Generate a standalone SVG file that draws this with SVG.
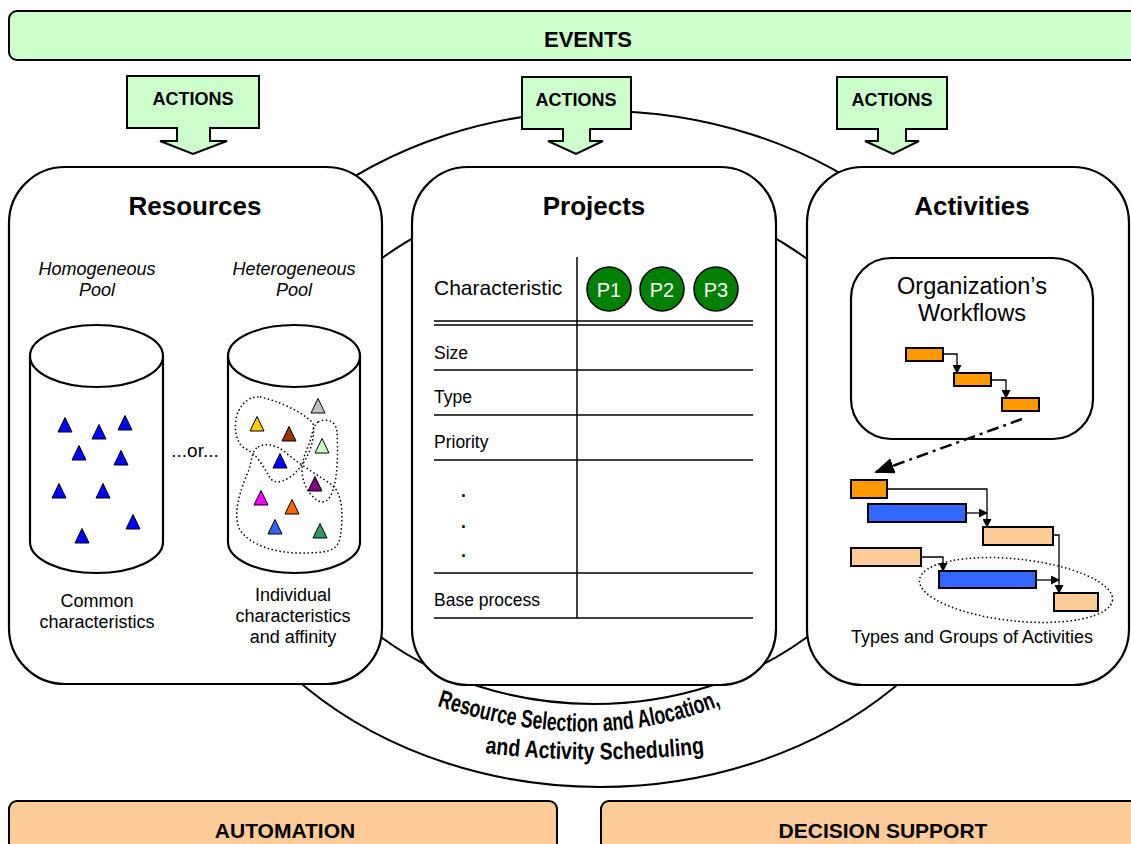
<svg xmlns="http://www.w3.org/2000/svg" width="1131" height="844" viewBox="0 0 1131 844">
  <style>
    text { font-family: "Liberation Sans", Arial, sans-serif; fill: #000; }
    .bar-green { fill: #ccffcc; stroke: #000; stroke-width: 2; }
    .bar-peach { fill: #ffcc99; stroke: #000; stroke-width: 2; }
    .panel { fill: #fff; stroke: #000; stroke-width: 2.2; }
    .ring { fill: none; stroke: #000; stroke-width: 2; }
    .cyl { fill: #fff; stroke: #000; stroke-width: 2.2; }
    .tri { stroke: #000; stroke-width: 1; }
    .loop { fill: none; stroke: #000; stroke-width: 1.5; stroke-dasharray: 1.5 2.5; }
    .rule { stroke: #000; stroke-width: 1.5; }
    .title { font-size: 26px; font-weight: bold; text-anchor: middle; }
    .head { font-size: 21px; font-weight: bold; text-anchor: middle; }
    .act { font-size: 18px; font-weight: bold; text-anchor: middle; }
    .body { font-size: 18px; text-anchor: middle; }
    .ital { font-size: 18px; font-style: italic; text-anchor: middle; }
    .cell { font-size: 17.5px; }
    .pcirc { fill: #008000; stroke: #000; stroke-width: 1.5; }
    .ptxt { font-size: 20px; fill: #fff; text-anchor: middle; }
    .task { stroke: #000; stroke-width: 2; }
    .orange { fill: #ff9900; }
    .blue { fill: #3366ff; }
    .peach { fill: #ffcc99; }
    .link { fill: none; stroke: #000; stroke-width: 1.3; marker-end: url(#tip); }
    .warp { font-size: 25px; font-weight: bold; }
  </style>
  <defs>
    <marker id="tip" markerUnits="userSpaceOnUse" markerWidth="9" markerHeight="9" refX="8" refY="4.5" orient="auto">
      <path d="M0,0 L9,4.5 L0,9 Z" fill="#000"/>
    </marker>
    <marker id="bigtip" markerUnits="userSpaceOnUse" markerWidth="20" markerHeight="16" refX="18" refY="8" orient="auto">
      <path d="M0,0 L20,8 L0,16 Z" fill="#000"/>
    </marker>
    <path id="tri" d="M0,-7.5 L7,7 L-7,7 Z"/>
    <path id="arcTop" d="M437,706 Q594,758 724,704"/>
    <path id="arcBottom" d="M485,753 Q596,766 707,753"/>
  </defs>

  <rect width="1131" height="844" fill="#fff"/>

  <!-- scheduling cycle rings behind the panels -->
  <g id="cycle">
    <ellipse class="ring" cx="600" cy="449" rx="415" ry="338"/>
    <ellipse class="ring" cx="594" cy="448" rx="316" ry="256"/>
  </g>

  <g id="events">
    <rect class="bar-green" x="9" y="11" width="1160" height="49" rx="8"/>
    <text class="head" x="588" y="47" style="font-size:22px">EVENTS</text>
  </g>

  <g id="actions-resources">
    <path class="bar-green" d="M127,76 H259 V128 H210 V141 H227 L193,154 L160,141 H177 V128 H127 Z"/>
    <text class="act" x="193" y="105">ACTIONS</text>
  </g>
  <g id="actions-projects">
    <path class="bar-green" d="M522,77 H631 V129 H590 V141 H603 L576,154 L548,141 H563 V129 H522 Z"/>
    <text class="act" x="576" y="106">ACTIONS</text>
  </g>
  <g id="actions-activities">
    <path class="bar-green" d="M837,77 H947 V129 H906 V141 H919 L893,154 L865,141 H878 V129 H837 Z"/>
    <text class="act" x="892" y="106">ACTIONS</text>
  </g>

  <!-- Resources panel -->
  <g id="resources">
    <rect class="panel" x="9" y="167" width="373" height="517" rx="56"/>
    <text class="title" x="195" y="215">Resources</text>
    <text class="ital" x="97" y="275">Homogeneous</text>
    <text class="ital" x="97" y="296">Pool</text>
    <text class="ital" x="294" y="275">Heterogeneous</text>
    <text class="ital" x="294" y="296">Pool</text>

    <g id="pool-homogeneous">
      <path class="cyl" d="M30,356 V542 A66.5,31 0 0 0 163,542 V356"/>
      <ellipse class="cyl" cx="96.5" cy="356" rx="66.5" ry="31"/>
      <g fill="#0000ff" class="tri">
        <use href="#tri" x="65" y="425"/>
        <use href="#tri" x="99" y="432"/>
        <use href="#tri" x="125" y="423"/>
        <use href="#tri" x="79" y="453"/>
        <use href="#tri" x="121" y="458"/>
        <use href="#tri" x="59" y="491"/>
        <use href="#tri" x="103" y="491"/>
        <use href="#tri" x="133" y="522"/>
        <use href="#tri" x="82" y="536"/>
      </g>
    </g>

    <text class="body" x="195" y="457" style="font-size:19px">...or...</text>

    <g id="pool-heterogeneous">
      <path class="cyl" d="M228,356 V542 A66,31 0 0 0 360,542 V356"/>
      <ellipse class="cyl" cx="294" cy="356" rx="66" ry="31"/>
      <path class="loop" d="M260,397 C275,400 300,410 313,423 C316,440 308,460 296,472 C288,480 276,486 270,478 C264,468 258,455 246,449 C235,444 233,425 238,412 C243,402 250,396 260,397 Z"/>
      <path class="loop" d="M318,422 C326,418 336,420 337,432 C338,450 338,475 333,490 C330,500 324,505 317,500 C308,494 302,482 302,470 C302,458 308,448 311,438 C313,430 314,425 318,422 Z"/>
      <path class="loop" d="M258,447 C265,443 275,444 285,452 C300,465 318,475 332,485 C344,495 343,520 340,538 C337,552 325,553 300,553 C275,553 250,545 240,530 C232,515 240,490 249,470 C252,460 252,450 258,447 Z"/>
      <g class="tri">
        <use href="#tri" x="318" y="406" fill="#c0c0c0"/>
        <use href="#tri" x="257" y="424" fill="#ffcc00"/>
        <use href="#tri" x="289" y="434" fill="#993300"/>
        <use href="#tri" x="322" y="446" fill="#ccffcc"/>
        <use href="#tri" x="280" y="461" fill="#0000ff"/>
        <use href="#tri" x="315" y="484" fill="#800080"/>
        <use href="#tri" x="261" y="498" fill="#ff00ff"/>
        <use href="#tri" x="292" y="507" fill="#ff6600"/>
        <use href="#tri" x="275" y="527" fill="#3366ff"/>
        <use href="#tri" x="320" y="531" fill="#339966"/>
      </g>
    </g>

    <text class="body" x="97" y="607">Common</text>
    <text class="body" x="97" y="628">characteristics</text>
    <text class="body" x="293" y="601">Individual</text>
    <text class="body" x="293" y="622">characteristics</text>
    <text class="body" x="293" y="643">and affinity</text>
  </g>

  <!-- Projects panel -->
  <g id="projects">
    <rect class="panel" x="412" y="167" width="364" height="518" rx="56"/>
    <text class="title" x="594" y="215">Projects</text>
    <line class="rule" x1="577" y1="257" x2="577" y2="618"/>
    <line class="rule" x1="434" y1="321" x2="753" y2="321"/>
    <line class="rule" x1="434" y1="325" x2="753" y2="325"/>
    <line class="rule" x1="434" y1="370" x2="753" y2="370"/>
    <line class="rule" x1="434" y1="415" x2="753" y2="415"/>
    <line class="rule" x1="434" y1="460" x2="753" y2="460"/>
    <line class="rule" x1="434" y1="573" x2="753" y2="573"/>
    <line class="rule" x1="434" y1="618" x2="753" y2="618"/>
    <text class="cell" x="434" y="295" style="font-size:21px">Characteristic</text>
    <text class="cell" x="434" y="359">Size</text>
    <text class="cell" x="434" y="403">Type</text>
    <text class="cell" x="434" y="448">Priority</text>
    <text class="cell" x="461" y="497" style="font-weight:bold">.</text>
    <text class="cell" x="461" y="528" style="font-weight:bold">.</text>
    <text class="cell" x="461" y="557" style="font-weight:bold">.</text>
    <text class="cell" x="434" y="606">Base process</text>
    <circle class="pcirc" cx="609" cy="289" r="22"/>
    <circle class="pcirc" cx="662" cy="289" r="22"/>
    <circle class="pcirc" cx="716" cy="289" r="22"/>
    <text class="ptxt" x="609" y="297">P1</text>
    <text class="ptxt" x="662" y="297">P2</text>
    <text class="ptxt" x="716" y="297">P3</text>
  </g>

  <!-- Activities panel -->
  <g id="activities">
    <rect class="panel" x="807" y="167" width="322" height="518" rx="56"/>
    <text class="title" x="972" y="215">Activities</text>
    <g id="workflows">
      <rect class="panel" x="851" y="258" width="242" height="181" rx="40"/>
      <text class="body" x="972" y="294" style="font-size:23.5px">Organization’s</text>
      <text class="body" x="972" y="321" style="font-size:23.5px">Workflows</text>
      <rect class="task orange" x="906" y="348" width="37" height="13"/>
      <rect class="task orange" x="954" y="373" width="37" height="13"/>
      <rect class="task orange" x="1002" y="398" width="37" height="13"/>
    </g>
    <g id="activity-groups">
      <rect class="task orange" x="851" y="480" width="36" height="18"/>
      <rect class="task blue" x="868" y="504" width="98" height="18"/>
      <rect class="task peach" x="983" y="527" width="70" height="18"/>
      <rect class="task peach" x="851" y="548" width="70" height="18"/>
      <rect class="task blue" x="939" y="571" width="97" height="17"/>
      <rect class="task peach" x="1054" y="593" width="44" height="18"/>
      <ellipse class="loop" cx="1016" cy="590" rx="97" ry="31" transform="rotate(6 1016 590)"/>
    </g>
    <text class="body" x="972" y="643" style="font-size:18px">Types and Groups of Activities</text>
  </g>

  <!-- precedence links between tasks -->
  <g id="connectors">
    <path class="link" d="M943,354 H957 V373"/>
    <path class="link" d="M991,380 H1006 V398"/>
    <path class="link" d="M887,489 H987 V527"/>
    <path class="link" d="M966,513 H987"/>
    <path class="link" d="M1053,535 H1059 V593"/>
    <path class="link" d="M1036,580 H1059"/>
    <path class="link" d="M921,557 H943 V571"/>
    <path d="M1022,419 L876,472" fill="none" stroke="#000" stroke-width="2.5" stroke-dasharray="12 5 3 5" marker-end="url(#bigtip)"/>
  </g>

  <!-- label on the scheduling ring -->
  <g id="ring-label">
    <text class="warp"><textPath href="#arcTop" textLength="290" lengthAdjust="spacingAndGlyphs">Resource Selection and Alocation,</textPath></text>
    <text class="warp" style="font-size:24px"><textPath href="#arcBottom" textLength="220" lengthAdjust="spacingAndGlyphs">and Activity Scheduling</textPath></text>
  </g>

  <g id="automation">
    <rect class="bar-peach" x="9" y="801" width="548" height="60" rx="8"/>
    <text class="head" x="285" y="838">AUTOMATION</text>
  </g>
  <g id="decision-support">
    <rect class="bar-peach" x="601" y="801" width="564" height="60" rx="8"/>
    <text class="head" x="883" y="838">DECISION SUPPORT</text>
  </g>
</svg>
